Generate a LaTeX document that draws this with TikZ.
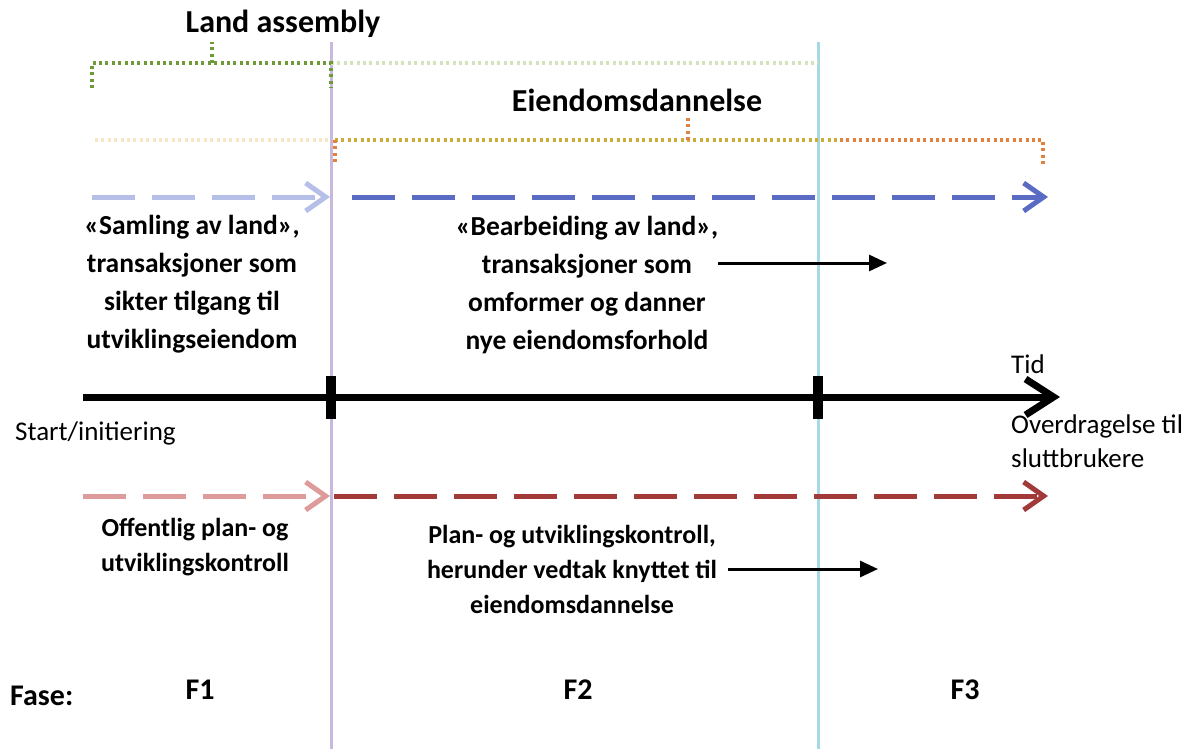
\documentclass[tikz,border=0pt]{standalone}
\usepackage{fontspec}
\setmainfont{Carlito}
\usetikzlibrary{arrows.meta}

\definecolor{lilac}{HTML}{C9B8DD}
\definecolor{skyline}{HTML}{A6D8E5}
\definecolor{grdark}{HTML}{6F9A3A}
\definecolor{grlight}{HTML}{D3E4BD}
\definecolor{orlight}{HTML}{F7E6C6}
\definecolor{gold}{HTML}{C8AE36}
\definecolor{orng}{HTML}{E0823E}
\definecolor{blulight}{HTML}{B5BFE8}
\definecolor{bludark}{HTML}{5A6BC4}
\definecolor{redlight}{HTML}{DD9B9B}
\definecolor{reddark}{HTML}{A23A3A}

\begin{document}
\begin{tikzpicture}[x=1pt, y=-1pt, every node/.style={inner sep=0pt},
    head/.style={font=\bfseries\fontsize{32}{38}\selectfont},
    txt/.style={font=\bfseries\fontsize{27.5}{38}\selectfont, align=center},
    lowtxt/.style={font=\bfseries\fontsize{26}{35}\selectfont, align=center},
    plain/.style={font=\fontsize{27}{34}\selectfont, align=left},
    fase/.style={font=\bfseries\fontsize{30}{36}\selectfont},
    dots/.style={line width=3.2pt, dash pattern=on 3pt off 3.4pt},
    dashes/.style={line width=5pt, dash pattern=on 43pt off 17pt, -{Straight Barb[length=20pt,width=28pt]}},
    pointer/.style={line width=3pt, -{Triangle[length=18pt,width=16pt]}}]

    \useasboundingbox (0, 0) rectangle (1201, 749);

    \draw [lilac, line width=3pt] (331, 42) -- (331, 749);
    \draw [skyline, line width=3pt] (818, 42) -- (818, 749);

    \node [head] (land) at (283, 24) {Land assembly};
    \node [head] (eiend) at (637, 100) {Eiendomsdannelse};

    \draw [dots, grlight] (331, 63) -- (818, 63);
    \draw [dots, grdark] (92, 88) -- (92, 63) -- (331, 63) -- (331, 88);
    \draw [dots, grdark] (212, 63) -- (212, 42);

    \draw [dots, orlight] (95, 140) -- (331, 140);
    \draw [dots, gold] (335, 140) -- (840, 140);
    \draw [dots, orng] (840, 140) -- (1043, 140) -- (1043, 165);
    \draw [dots, orng] (335, 140) -- (335, 165);
    \draw [dots, orng] (688, 140) -- (688, 117);

    \coordinate (b0) at (92, 197);
    \coordinate (b1) at (330, 197);
    \coordinate (b2) at (352, 197);
    \coordinate (b3) at (1048, 197);
    \coordinate (r0) at (83, 496);
    \coordinate (r1) at (330, 496);
    \coordinate (r2) at (334, 496);
    \coordinate (r3) at (1048, 496);
    \coordinate (tl0) at (83, 397);
    \coordinate (tl1) at (1060, 397);

    \draw [dashes, blulight] (b0) -- (b1);
    \draw [dashes, bludark] (b2) -- (b3);
    \draw [dashes, redlight] (r0) -- (r1);
    \draw [dashes, reddark] (r2) -- (r3);

    \node [txt] (samling) at (192, 284) {«Samling av land»,\\transaksjoner som\\sikter tilgang til\\utviklingseiendom};
    \node [txt] (bearb) at (587, 285) {«Bearbeiding av land»,\\transaksjoner som\\omformer og danner\\nye eiendomsforhold};
    \coordinate (p0) at (718, 263);
    \coordinate (p1) at (887, 263);
    \draw [pointer] (p0) -- (p1);

    \draw [line width=7pt, -{Straight Barb[length=28pt,width=36pt]}] (tl0) -- (tl1);
    \node [fill=black, minimum width=10pt, minimum height=43pt] (tick1) at (331, 397) {};
    \node [fill=black, minimum width=10pt, minimum height=43pt] (tick2) at (818, 397) {};

    \node [plain, anchor=base west] (tid) at (1011, 373) {Tid};
    \node [plain, anchor=base west] (start) at (15, 440) {Start/initiering};
    \node [plain, anchor=base west] (overd) at (1011, 433) {Overdragelse til};
    \node [plain, anchor=base west] (slutt) at (1011, 467) {sluttbrukere};

    \node [lowtxt] (offentlig) at (195, 547) {Offentlig plan- og\\utviklingskontroll};
    \node [lowtxt] (plankontroll) at (572, 569) {Plan- og utviklingskontroll,\\herunder vedtak knyttet til\\eiendomsdannelse};
    \coordinate (q0) at (728, 569);
    \coordinate (q1) at (878, 569);
    \draw [pointer] (q0) -- (q1);

    \node [fase, anchor=base west] (fase) at (10, 705) {Fase:};
    \node [fase] (f1) at (200, 690) {F1};
    \node [fase] (f2) at (578, 690) {F2};
    \node [fase] (f3) at (965, 690) {F3};

\end{tikzpicture}
\end{document}
